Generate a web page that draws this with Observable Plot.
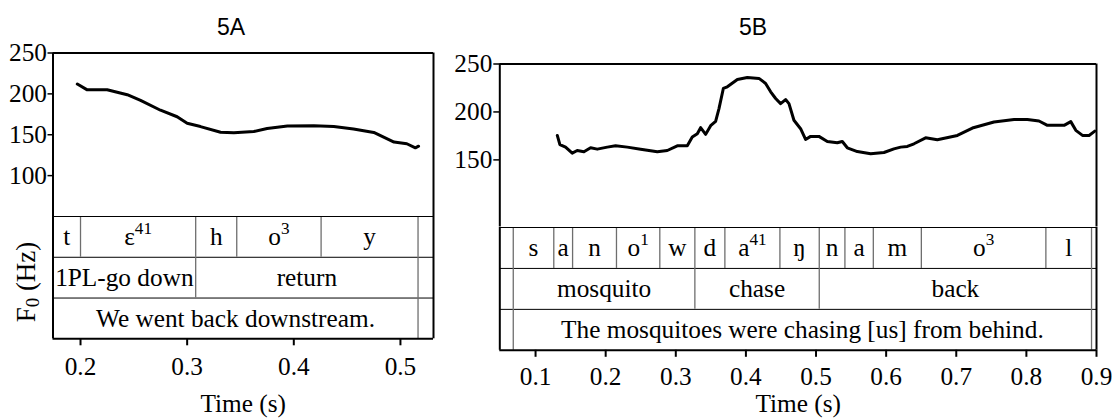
<!DOCTYPE html>
<html>
<head>
<meta charset="utf-8">
<script src="https://cdn.jsdelivr.net/npm/d3@7"></script>
<script src="https://cdn.jsdelivr.net/npm/@observablehq/plot@0.6"></script>
<style>
  body { margin: 0; background: #fff; }
  #root { position: relative; width: 1112px; height: 418px; overflow: hidden; background: #fff; }
  #root > * { position: absolute; }
  #root svg text, #root svg tspan { font-family: "Liberation Serif", "Times New Roman", Times, serif !important; }
  .title { font-family: "Liberation Sans", Arial, sans-serif; font-size: 23px; line-height: 23px; color: #000; transform: translateX(-50%); white-space: nowrap; }
  .ylab { font-family: "Liberation Serif", "Times New Roman", serif; font-size: 27px; line-height: 27px; color: #000; white-space: nowrap; transform: translate(-50%, -50%) rotate(-90deg); }
  .ylab sub { font-size: 0.7em; vertical-align: -0.25em; line-height: 0; }
  svg g[aria-label^="x-axis"] path, svg g[aria-label^="x-axis"] line { stroke-width: 2; }
  svg g[aria-label^="y-axis"] path, svg g[aria-label^="y-axis"] line { stroke-width: 1.5; }
</style>
</head>
<body>
<div id="root"></div>
<script>
// ---------------- Data: panel 5A ----------------
const titleA = "5A";
const timeA = [0.197, 0.2063, 0.225, 0.2438, 0.2563, 0.275, 0.2906, 0.3, 0.3125, 0.3313, 0.3438, 0.3625, 0.375, 0.394, 0.4188, 0.4375, 0.456, 0.475, 0.494, 0.506, 0.514, 0.517];
const f0A   = [212, 204.9, 205, 199, 192, 180, 172, 164, 160, 153, 152.4, 154, 157.7, 160.6, 161, 160, 157, 152.8, 141, 139, 134, 136];
const xDomainA = [0.1742, 0.531];
const yDomainA = [50, 250];
const xTicksA = [0.2, 0.3, 0.4, 0.5];
const yTicksA = [100, 150, 200, 250];
const phonesA      = ["t", "ε^41", "h", "o^3", "y", ""];
const phoneStartA  = [0.1742, 0.2, 0.308, 0.3465, 0.4256, 0.5165];
const phoneEndA    = [0.2, 0.308, 0.3465, 0.4256, 0.5165, 0.531];
const wordsA       = ["1PL-go down", "return", ""];
const wordStartA   = [0.1742, 0.308, 0.5165];
const wordEndA     = [0.308, 0.5165, 0.531];
const sentenceA    = ["We went back downstream.", ""];
const sentStartA   = [0.1742, 0.5165];
const sentEndA     = [0.5165, 0.531];

// ---------------- Data: panel 5B ----------------
const titleB = "5B";
const timeB = [0.131, 0.1347, 0.1428, 0.1523, 0.1594, 0.169, 0.1785, 0.188, 0.2023, 0.2141, 0.2308, 0.2498, 0.2736, 0.2879, 0.3021, 0.3164, 0.3235, 0.3307, 0.3354, 0.3426, 0.3497, 0.3568, 0.3616, 0.3678, 0.3735, 0.3878, 0.402, 0.4186, 0.4281, 0.4353, 0.4424, 0.4495, 0.4566, 0.4614, 0.4685, 0.478, 0.4851, 0.4923, 0.5041, 0.5161, 0.5303, 0.5375, 0.5446, 0.5589, 0.5779, 0.5969, 0.6111, 0.6207, 0.6302, 0.6397, 0.6563, 0.673, 0.7016, 0.723, 0.7538, 0.7824, 0.8014, 0.818, 0.83, 0.8538, 0.8633, 0.8705, 0.88, 0.8894, 0.8976];
const f0B   = [175.5, 166, 163.3, 157, 159.8, 158.4, 162.6, 161.2, 163.3, 164.7, 163.3, 161.2, 158.4, 159.8, 164.7, 164.7, 173.8, 177.3, 183.6, 176.6, 185.7, 190.2, 203.5, 224.5, 226.2, 233.9, 236, 235, 229.7, 221, 214, 208.7, 212.9, 208.7, 191.3, 182.5, 171.3, 174.5, 174.5, 169.2, 167.8, 169.2, 162.6, 158.7, 156.3, 157.7, 161.5, 163.3, 164, 166.8, 173, 171, 175.5, 183.2, 189.5, 192, 192, 190.6, 186, 186, 189.9, 180.8, 175.5, 175.5, 180];
const xDomainB = [0.049, 0.9];
const yDomainB = [80, 250];
const xTicksB = [0.1, 0.2, 0.3, 0.4, 0.5, 0.6, 0.7, 0.8, 0.9];
const yTicksB = [150, 200, 250];
const phonesB      = ["", "s", "a", "n", "o^1", "w", "d", "a^41", "ŋ", "n", "a", "m", "o^3", "l", ""];
const phoneStartB  = [0.049, 0.0682, 0.126, 0.1528, 0.2154, 0.2772, 0.3272, 0.37, 0.4485, 0.5046, 0.5412, 0.5817, 0.6502, 0.8278, 0.8929];
const phoneEndB    = [0.0682, 0.126, 0.1528, 0.2154, 0.2772, 0.3272, 0.37, 0.4485, 0.5046, 0.5412, 0.5817, 0.6502, 0.8278, 0.8929, 0.9];
const wordsB       = ["", "mosquito", "chase", "back", ""];
const wordStartB   = [0.049, 0.0682, 0.3272, 0.5046, 0.8929];
const wordEndB     = [0.0682, 0.3272, 0.5046, 0.8929, 0.9];
const sentenceB    = ["", "The mosquitoes were chasing [us] from behind.", ""];
const sentStartB   = [0.049, 0.0682, 0.8929];
const sentEndB     = [0.0682, 0.8929, 0.9];

const timeLabel = "Time (s)";

// ---------------- Helpers ----------------
const SERIF = "'Liberation Serif', 'Times New Roman', Times, serif";
const baseStyle = { fontFamily: SERIF, fontSize: "25.3px", color: "#000", background: "transparent", overflow: "visible" };

function applySup(svg) {
  svg.querySelectorAll("text").forEach(el => {
    if (el.children.length) return;
    const s = el.textContent;
    const i = s.indexOf("^");
    if (i < 0) return;
    el.textContent = s.slice(0, i);
    const sup = document.createElementNS("http://www.w3.org/2000/svg", "tspan");
    sup.setAttribute("font-size", "0.68em");
    sup.setAttribute("dy", "-0.62em");
    sup.textContent = s.slice(i + 1);
    el.appendChild(sup);
  });
}

function f0Plot({width, height, marginLeft, marginRight, marginTop, xDomain, yDomain, yTicks, tickSize, tickPadding, times, f0s}) {
  const pts = times.map((t, i) => ({t, f0: f0s[i]}));
  return Plot.plot({
    width, height, marginLeft, marginRight, marginTop, marginBottom: 0,
    style: baseStyle,
    x: {domain: xDomain, axis: null},
    y: {domain: yDomain, ticks: yTicks, tickSize, tickPadding, label: null, tickFormat: d => String(d)},
    marks: [
      Plot.line(pts, {x: "t", y: "f0", stroke: "#000", strokeWidth: 3, strokeLinejoin: "round", strokeLinecap: "round"}),
      Plot.ruleY([yDomain[1]], {stroke: "#000", strokeWidth: 2}),
      Plot.ruleX(xDomain, {stroke: "#000", strokeWidth: 2})
    ]
  });
}

function tierPlot({width, height, marginLeft, marginRight, marginBottom, xDomain, xTicks, tickPadding, labelDy, tiers}) {
  const cells = tiers.flatMap((tier, row) =>
    tier.labels.map((label, i) => ({row, label, x1: tier.starts[i], x2: tier.ends[i]})));
  const svg = Plot.plot({
    width, height, marginLeft, marginRight, marginTop: 2, marginBottom,
    style: baseStyle,
    x: {domain: xDomain, ticks: xTicks, tickSize: 7, tickPadding, tickFormat: d3.format(".1f"), label: null},
    y: {domain: [tiers.length, 0], axis: null},
    marks: [
      Plot.ruleY(d3.range(1, tiers.length), {stroke: "#000", strokeWidth: 1}),
      Plot.ruleX(cells.filter(d => d.x1 > xDomain[0]), {x: "x1", y1: d => d.row, y2: d => d.row + 1, stroke: "#6e6e6e", strokeWidth: 1.3}),
      Plot.text(cells.filter(d => d.label), {x: d => (d.x1 + d.x2) / 2, y: d => d.row + 0.5, text: "label", fill: "#000", fontFamily: SERIF}),
      Plot.ruleY([0], {stroke: "#000", strokeWidth: 1.2}),
      Plot.ruleY([tiers.length], {stroke: "#000", strokeWidth: 2}),
      Plot.ruleX(xDomain, {stroke: "#000", strokeWidth: 2}),
      Plot.text([timeLabel], {frameAnchor: "bottom", lineAnchor: "middle", dy: labelDy, fill: "#000", fontFamily: SERIF})
    ]
  });
  applySup(svg);
  return svg;
}

function place(el, left, top) {
  el.style.left = left + "px";
  el.style.top = top + "px";
  return el;
}

const root = document.getElementById("root");

// ---------------- Panel A ----------------
root.appendChild(place(f0Plot({
  width: 440, height: 216, marginLeft: 52.5, marginRight: 7, marginTop: 52.5,
  xDomain: xDomainA, yDomain: yDomainA, yTicks: yTicksA, tickSize: 5, tickPadding: 1,
  times: timeA, f0s: f0A
}), 0, 0));

root.appendChild(place(tierPlot({
  width: 440, height: 204, marginLeft: 52.5, marginRight: 7, marginBottom: 79.7,
  xDomain: xDomainA, xTicks: xTicksA, tickPadding: 11, labelDy: 65,
  tiers: [
    {labels: phonesA, starts: phoneStartA, ends: phoneEndA},
    {labels: wordsA, starts: wordStartA, ends: wordEndA},
    {labels: sentenceA, starts: sentStartA, ends: sentEndA}
  ]
}), 0, 214));

// ---------------- Panel B ----------------
root.appendChild(place(f0Plot({
  width: 672, height: 226.5, marginLeft: 59.3, marginRight: 16, marginTop: 63.5,
  xDomain: xDomainB, yDomain: yDomainB, yTicks: yTicksB, tickSize: 6, tickPadding: 1.5,
  times: timeB, f0s: f0B
}), 440, 0));

root.appendChild(place(tierPlot({
  width: 672, height: 193.5, marginLeft: 59.3, marginRight: 16, marginBottom: 68.7,
  xDomain: xDomainB, xTicks: xTicksB, tickPadding: 10, labelDy: 54,
  tiers: [
    {labels: phonesB, starts: phoneStartB, ends: phoneEndB},
    {labels: wordsB, starts: wordStartB, ends: wordEndB},
    {labels: sentenceB, starts: sentStartB, ends: sentEndB}
  ]
}), 440, 224.5));

// ---------------- Titles & y label ----------------
const tA = document.createElement("div");
tA.className = "title"; tA.textContent = titleA;
root.appendChild(place(tA, 231, 16.4));
const tB = document.createElement("div");
tB.className = "title"; tB.textContent = titleB;
root.appendChild(place(tB, 753, 16.4));

const yl = document.createElement("div");
yl.className = "ylab";
yl.innerHTML = "F<sub>0</sub> (Hz)";
root.appendChild(place(yl, 26, 281.7));
</script>
</body>
</html>
